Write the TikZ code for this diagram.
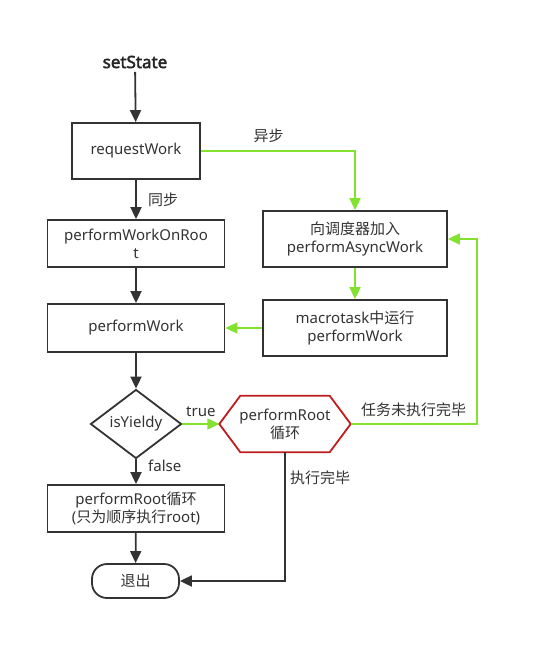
\documentclass[tikz,border=0pt]{standalone}
\usepackage{fontspec}
\setmainfont{Noto Sans}
\newfontfamily\cjk{Noto Sans CJK SC}
\newfontfamily\heavy[FakeBold=2.5]{Noto Sans}
\usetikzlibrary{arrows.meta,shapes.geometric}
\definecolor{ink}{RGB}{51,51,51}
\definecolor{lime}{RGB}{130,226,45}
\definecolor{hexred}{RGB}{190,30,30}
\tikzset{
  box/.style={draw=ink, line width=1.8pt, minimum width=177pt, minimum height=47pt, inner sep=0pt, align=center},
  flow/.style={draw=ink, line width=1.8pt, -{Triangle[length=12pt,width=11pt]}},
  async/.style={draw=lime, line width=1.8pt, -{Triangle[length=12pt,width=11pt]}},
  every node/.style={font=\fontsize{15}{18}\selectfont, text=ink}
}
\begin{document}
\begin{tikzpicture}[x=1pt, y=-1pt]
\useasboundingbox (0,0) rectangle (538,660);

% Left column
\node[font=\fontsize{17}{20}\selectfont\heavy, text=black!85] (set) at (135,62) {setState};
\node[box, minimum width=128pt, minimum height=56pt] (req) at (136,151) {requestWork};
\node[box] (onroot) at (136,243.5) {performWorkOnRoo\\t};
\node[box, minimum height=48pt] (work) at (136,328) {performWork};
\node[diamond, draw=ink, line width=1.8pt, inner sep=0pt, minimum width=91pt, minimum height=69pt] (yield) at (136,424) {isYieldy};
\node[box] (loop) at (136,508.5) {performRoot{\cjk 循环}\\({\cjk 只为顺序执行}root)};
\node[draw=ink, line width=1.8pt, rounded corners=15pt, minimum width=87pt, minimum height=34pt, inner sep=0pt] (quit) at (135.5,581) {\cjk 退出};

% Right column
\node[box, minimum width=184pt, minimum height=56pt] (sched) at (355,239) {{\cjk 向调度器加入}\\performAsyncWork};
\node[box, minimum width=184pt, minimum height=56pt] (macro) at (355,328) {macrotask{\cjk 中运行}\\performWork};
\node[minimum width=131pt, minimum height=56pt, inner sep=0pt, align=center] (root) at (285,424) {performRoot\\{\cjk 循环}};
\draw[hexred, line width=1.8pt] (root.west) -- ([xshift=21pt]root.north west) -- ([xshift=-21pt]root.north east)
  -- (root.east) -- ([xshift=-21pt]root.south east) -- ([xshift=21pt]root.south west) -- cycle;

% Connectors
\draw[flow] (set) -- (req);
\draw[flow] (req) -- (onroot) node[midway, right=8pt] {\cjk 同步};
\draw[flow] (onroot) -- (work);
\draw[flow] (work) -- (yield);
\draw[flow] (yield) -- (loop) node[pos=0.25, right=8pt] {false};
\draw[flow] (loop) -- (quit);
\draw[flow] (root.south) |- (quit.east) node[pos=0.1, right=1pt] {\cjk 执行完毕};
\draw[async] (req.east) -| (sched.north) node[pos=0.22, above=4pt] {\cjk 异步};
\draw[async] (sched) -- (macro);
\draw[async] (macro) -- (work);
\draw[async] (yield) -- (root) node[midway, above=3pt] {true};
\draw[async] (root.east) -- ++(126,0) node[midway, above=3pt] {\cjk 任务未执行完毕} |- (sched.east);
\end{tikzpicture}
\end{document}
